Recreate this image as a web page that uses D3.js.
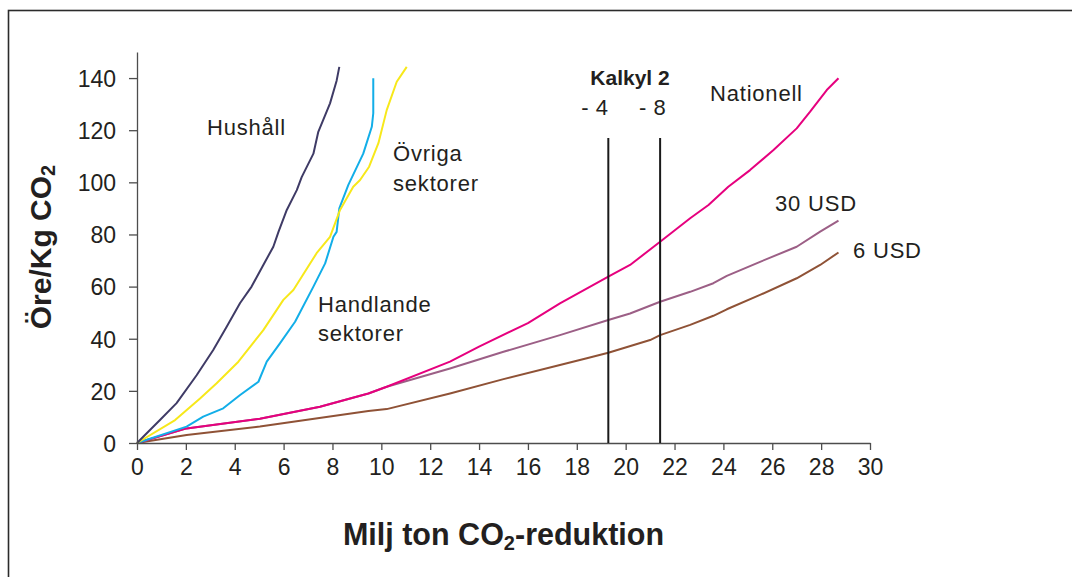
<!DOCTYPE html>
<html>
<head>
<meta charset="utf-8">
<script src="https://cdn.jsdelivr.net/npm/d3@7"></script>
<style>
  body { margin: 0; background: #fff; }
  text { font-family: "Liberation Sans", Arial, sans-serif; fill: #231f20; }
</style>
</head>
<body>
<div id="chart"></div>
<script>
// values (x = Milj ton, y = öre/kg)
var hushallX = [0, 0.94, 1.62, 2.44, 3.12, 3.67, 4.22, 4.69, 5.17, 5.58, 5.79, 6.13, 6.54, 6.74, 7.22, 7.42, 7.9, 8.17, 8.28];
var hushallY = [0, 8.8, 15.3, 26, 35.7, 44.6, 53.7, 60, 68.3, 75.3, 81, 89.4, 97, 102, 111, 119.4, 130.3, 139, 144.3];

var ovrigaX = [0, 1.56, 2.58, 3.26, 4.15, 5.17, 5.99, 6.4, 7.35, 7.9, 8.31, 8.85, 9.13, 9.5, 9.88, 10.22, 10.63, 11.04];
var ovrigaY = [0, 8.8, 17.1, 22.9, 31.2, 43.3, 54.9, 58.7, 72.8, 79.1, 89.4, 98.3, 100.9, 106, 115, 127.7, 138.6, 144.3];

var handlandeX = [0, 2.03, 2.71, 3.53, 4.22, 4.97, 5.31, 5.85, 6.47, 7.22, 7.7, 8.04, 8.17, 8.28, 8.65, 9.26, 9.61, 9.67, 9.67];
var handlandeY = [0, 6.3, 10.1, 13.3, 18.4, 23.5, 31.2, 38.2, 46.5, 60, 68.9, 79.1, 81, 90, 99, 111, 121.3, 126.5, 139.9];

var nationellX = [0, 2.03, 5.03, 7.49, 9.47, 10.22, 12.81, 14, 16, 17.31, 19.29, 20.18, 21.41, 22.64, 23.39, 24.2, 25.09, 26.05, 27, 27.55, 28.23, 28.71];
var nationellY = [0, 5.6, 9.3, 13.9, 19, 21.6, 31.2, 37, 46, 53.6, 63.8, 68.3, 77.2, 86.2, 91.3, 98.3, 104.7, 112.4, 120.7, 127.1, 135.4, 139.9];

var usd30X = [0, 2.03, 5.03, 7.49, 9.47, 10.22, 12.81, 15, 17.31, 19.29, 20.18, 21.41, 22.64, 23.59, 24.14, 25.5, 27, 27.96, 28.71];
var usd30Y = [0, 5.6, 9.3, 13.9, 19, 21.6, 28.6, 35, 41.4, 47.2, 49.7, 54.2, 58, 61.3, 64.1, 69.5, 75.3, 81.1, 85.3];

var usd6X = [0, 2.03, 5.03, 9.47, 10.22, 12.81, 15, 17.31, 18.41, 19.29, 21, 21.41, 22.64, 23.59, 24.14, 25.5, 27, 27.96, 28.71];
var usd6Y = [0, 3.1, 6.3, 12.3, 13, 19, 24.5, 29.9, 32.5, 34.6, 39.5, 41.4, 45.3, 48.8, 51.3, 56.8, 63.2, 68.3, 73.1];

var kalkylX = [19.29, 21.41];
var kalkylLabels = ["- 4", "- 8"];
var kalkylTop = 117;

var xTicks = d3.range(0, 31, 2);
var yTicks = d3.range(0, 141, 20);

var series = [
  { xs: usd6X, ys: usd6Y, color: "#8f5236" },
  { xs: usd30X, ys: usd30Y, color: "#9c5f86" },
  { xs: nationellX, ys: nationellY, color: "#e6007e" },
  { xs: handlandeX, ys: handlandeY, color: "#12aee8" },
  { xs: ovrigaX, ys: ovrigaY, color: "#f7e81a" },
  { xs: hushallX, ys: hushallY, color: "#3f3b66" },
];

var width = 1072,
  height = 577;

var x = d3.scaleLinear().domain([0, 30]).range([137, 870]);
var y = d3.scaleLinear().domain([0, 150]).range([443, 52]);

var svg = d3
  .select("#chart")
  .append("svg")
  .attr("width", width)
  .attr("height", height);

// outer frame, cut by the right and bottom edge
svg
  .append("rect")
  .attr("x", 8.5)
  .attr("y", 10.5)
  .attr("width", 1100)
  .attr("height", 700)
  .attr("fill", "none")
  .attr("stroke", "#2b2b2b")
  .attr("stroke-width", 1.6);

var line = d3
  .line()
  .x((d) => x(d[0]))
  .y((d) => y(d[1]));

svg
  .append("g")
  .selectAll("path")
  .data(series)
  .enter()
  .append("path")
  .attr("d", (s) => line(s.xs.map((v, i) => [v, s.ys[i]])))
  .attr("fill", "none")
  .attr("stroke", (s) => s.color)
  .attr("stroke-width", 2)
  .attr("stroke-linejoin", "round");

// axes
var xAxis = svg
  .append("g")
  .attr("transform", `translate(0,${y(0)})`)
  .call(d3.axisBottom(x).tickValues(xTicks).tickSize(7).tickSizeOuter(0).tickPadding(9));
var yAxis = svg
  .append("g")
  .attr("transform", `translate(${x(0)},0)`)
  .call(d3.axisLeft(y).tickValues(yTicks).tickSize(8).tickSizeOuter(0).tickPadding(13));

[xAxis, yAxis].forEach((g) => {
  g.select(".domain").attr("stroke", "#4d4d4d").attr("stroke-width", 1.3);
  g.selectAll(".tick line").attr("stroke", "#4d4d4d").attr("stroke-width", 1.3);
  g.selectAll(".tick text")
    .attr("fill", "#231f20")
    .style("font-family", '"Liberation Sans", Arial, sans-serif')
    .style("font-size", "23px");
});
yAxis.selectAll(".tick text").attr("dy", "0.36em");

// Kalkyl 2 markers
svg
  .append("g")
  .selectAll("line")
  .data(kalkylX)
  .enter()
  .append("line")
  .attr("x1", (d) => x(d))
  .attr("x2", (d) => x(d))
  .attr("y1", y(kalkylTop))
  .attr("y2", y(0))
  .attr("stroke", "#1a1a1a")
  .attr("stroke-width", 2);

svg
  .append("text")
  .attr("x", 630)
  .attr("y", 85)
  .attr("text-anchor", "middle")
  .style("font-size", "21px")
  .style("font-weight", "bold")
  .text("Kalkyl 2");

var kalkylDx = [-27, -21];
svg
  .append("g")
  .selectAll("text")
  .data(kalkylLabels)
  .enter()
  .append("text")
  .attr("x", (d, i) => x(kalkylX[i]) + kalkylDx[i])
  .attr("y", 115)
  .style("font-size", "22px")
  .style("letter-spacing", "0.5px")
  .text((d) => d);

// series labels
var labels = [
  ["Hushåll", 207, 135],
  ["Övriga", 393, 161],
  ["sektorer", 393, 191],
  ["Handlande", 318, 312],
  ["sektorer", 318, 341],
  ["Nationell", 710, 101],
  ["30 USD", 775, 211],
  ["6 USD", 853, 258],
];
svg
  .append("g")
  .selectAll("text")
  .data(labels)
  .enter()
  .append("text")
  .attr("x", (d) => d[1])
  .attr("y", (d) => d[2])
  .style("font-size", "22px")
  .style("letter-spacing", "0.8px")
  .text((d) => d[0]);

// axis titles
var xt = svg
  .append("text")
  .attr("x", (x(0) + x(30)) / 2)
  .attr("y", 545)
  .attr("text-anchor", "middle")
  .style("font-size", "30.5px")
  .style("font-weight", "bold");
xt.append("tspan").text("Milj ton CO");
xt.append("tspan").attr("dy", 5).style("font-size", "20px").text("2");
xt.append("tspan").attr("dy", -5).text("-reduktion");

var yt = svg
  .append("text")
  .attr("transform", "translate(51,247) rotate(-90)")
  .attr("text-anchor", "middle")
  .style("font-size", "30px")
  .style("font-weight", "bold");
yt.append("tspan").text("Öre/Kg CO");
yt.append("tspan").attr("dy", 4).style("font-size", "20px").text("2");
</script>
</body>
</html>
